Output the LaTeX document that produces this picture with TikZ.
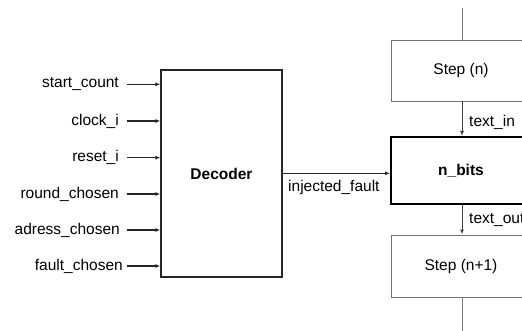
\documentclass[tikz,border=0pt]{standalone}
\usepackage{fontspec}
\setmainfont{Liberation Sans}
\usetikzlibrary{arrows.meta}
\begin{document}
\begin{tikzpicture}[x=1pt,y=-1pt,
  lbl/.style={font=\fontsize{15.5}{18}\selectfont, inner sep=0pt},
  inarrow/.style={draw=black!85, line width=1.1pt, -{Latex[length=5pt,width=4pt]}},
  stepbox/.style={draw=black!55, line width=0.9pt, fill=white, minimum width=140pt, inner sep=0pt, font=\fontsize{15.5}{18}\selectfont},
  gline/.style={draw=black!50, line width=1pt},
  garrow/.style={draw=black!75, line width=1pt, -{Latex[length=5pt,width=4pt]}}]
\useasboundingbox (0,0) rectangle (522,331);
\begin{scope}
\clip (0,0) rectangle (522,331);
% Decoder
\node[draw=black!85, line width=1.3pt, minimum width=121pt, minimum height=207pt, inner sep=0pt,
      font=\fontsize{15.5}{18}\selectfont\bfseries] (dec) at (221.5,173.5) {Decoder};
% inputs
\foreach \n/\t/\y/\lx in {a/start\_count/84.3/119, b/clock\_i/121/119, c/reset\_i/157.7/119, d/round\_chosen/194/119, e/adress\_chosen/230/120, f/fault\_chosen/266/123}{
  \node[lbl, anchor=east] (l\n) at (\lx,\y) {\t};
  \coordinate (s\n) at (126.5,\y);
  \draw[inarrow] (s\n) -- (s\n -| dec.west);
}
% right column
\node[stepbox, minimum height=61pt] (stepn) at (461,70.5) {Step (n)};
\node[draw=black, line width=2pt, fill=white, minimum width=140pt, minimum height=67pt, inner sep=0pt,
      font=\fontsize{15.5}{18}\selectfont\bfseries] (nbits) at (461,170.5) {n\_bits};
\node[stepbox, minimum height=62pt] (stepn1) at (461,266) {Step (n+1)};
\coordinate (top) at (462,8);
\coordinate (bot) at (462,331);
\draw[gline] (top) -- (top |- stepn.north);
\draw[gline] (bot |- stepn1.south) -- (bot);
\draw[garrow] (top |- stepn.south) -- (top |- nbits.north);
\draw[garrow] (top |- nbits.south) -- (top |- stepn1.north);
\node[lbl, anchor=west] (tin) at (469,122.5) {text\_in};
\node[lbl, anchor=west] (tout) at (469,220) {text\_out};
% injected fault
\coordinate (inj) at (282,173.3);
\draw[inarrow] (dec.east |- inj) -- (nbits.west |- inj);
\node[lbl, anchor=west] (injl) at (288,187) {injected\_fault};
\end{scope}
\end{tikzpicture}
\end{document}
